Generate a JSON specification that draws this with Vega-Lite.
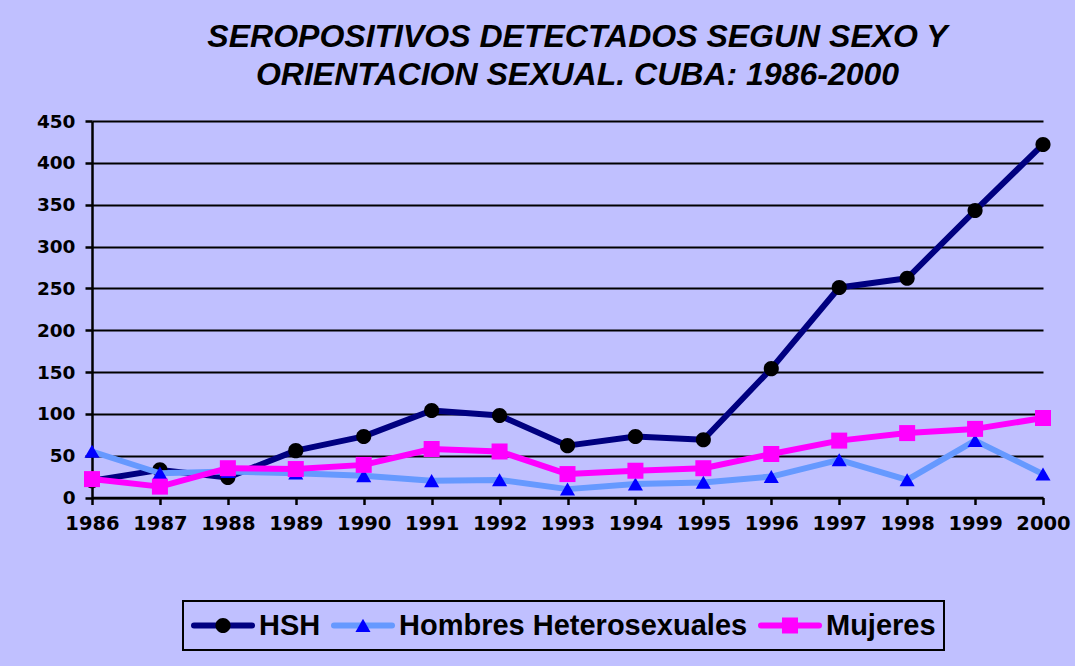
{
  "$schema": "https://vega.github.io/schema/vega-lite/v6.json",
  "autosize": "none",
  "width": 951,
  "height": 376.5,
  "padding": {"left": 92, "top": 121, "right": 32, "bottom": 168.5},
  "background": "#C0C0FF",
  "title": {
    "text": ["SEROPOSITIVOS DETECTADOS SEGUN SEXO Y", "ORIENTACION SEXUAL. CUBA: 1986-2000"],
    "font": "Liberation Sans",
    "fontSize": 32,
    "fontWeight": "bold",
    "fontStyle": "italic",
    "color": "black",
    "anchor": "middle",
    "frame": "group",
    "lineHeight": 38,
    "dx": 10,
    "offset": 20
  },
  "data": {
    "values": [
      {"year": "1986", "series": "HSH", "value": 20},
      {"year": "1987", "series": "HSH", "value": 33},
      {"year": "1988", "series": "HSH", "value": 24},
      {"year": "1989", "series": "HSH", "value": 56},
      {"year": "1990", "series": "HSH", "value": 73},
      {"year": "1991", "series": "HSH", "value": 104},
      {"year": "1992", "series": "HSH", "value": 98},
      {"year": "1993", "series": "HSH", "value": 62},
      {"year": "1994", "series": "HSH", "value": 73},
      {"year": "1995", "series": "HSH", "value": 69},
      {"year": "1996", "series": "HSH", "value": 154},
      {"year": "1997", "series": "HSH", "value": 251},
      {"year": "1998", "series": "HSH", "value": 262},
      {"year": "1999", "series": "HSH", "value": 343},
      {"year": "2000", "series": "HSH", "value": 422},
      {"year": "1986", "series": "Hombres Heterosexuales", "value": 55},
      {"year": "1987", "series": "Hombres Heterosexuales", "value": 29},
      {"year": "1988", "series": "Hombres Heterosexuales", "value": 31},
      {"year": "1989", "series": "Hombres Heterosexuales", "value": 29},
      {"year": "1990", "series": "Hombres Heterosexuales", "value": 26},
      {"year": "1991", "series": "Hombres Heterosexuales", "value": 20},
      {"year": "1992", "series": "Hombres Heterosexuales", "value": 21},
      {"year": "1993", "series": "Hombres Heterosexuales", "value": 10},
      {"year": "1994", "series": "Hombres Heterosexuales", "value": 16},
      {"year": "1995", "series": "Hombres Heterosexuales", "value": 18},
      {"year": "1996", "series": "Hombres Heterosexuales", "value": 25},
      {"year": "1997", "series": "Hombres Heterosexuales", "value": 45},
      {"year": "1998", "series": "Hombres Heterosexuales", "value": 21},
      {"year": "1999", "series": "Hombres Heterosexuales", "value": 68},
      {"year": "2000", "series": "Hombres Heterosexuales", "value": 28},
      {"year": "1986", "series": "Mujeres", "value": 22},
      {"year": "1987", "series": "Mujeres", "value": 13},
      {"year": "1988", "series": "Mujeres", "value": 35},
      {"year": "1989", "series": "Mujeres", "value": 34},
      {"year": "1990", "series": "Mujeres", "value": 39},
      {"year": "1991", "series": "Mujeres", "value": 58},
      {"year": "1992", "series": "Mujeres", "value": 55},
      {"year": "1993", "series": "Mujeres", "value": 28},
      {"year": "1994", "series": "Mujeres", "value": 32},
      {"year": "1995", "series": "Mujeres", "value": 35},
      {"year": "1996", "series": "Mujeres", "value": 52},
      {"year": "1997", "series": "Mujeres", "value": 68},
      {"year": "1998", "series": "Mujeres", "value": 77},
      {"year": "1999", "series": "Mujeres", "value": 82},
      {"year": "2000", "series": "Mujeres", "value": 95}
    ]
  },
  "encoding": {
    "x": {
      "field": "year", "type": "ordinal",
      "scale": {"type": "point", "padding": 0},
      "axis": {
        "title": null, "labelAngle": 0, "grid": false,
        "domain": true, "domainColor": "black", "domainWidth": 2.5,
        "ticks": true, "tickColor": "black", "tickWidth": 2.5, "tickSize": 7,
        "labelFont": "DejaVu Sans", "labelFontSize": 19.5, "labelFontWeight": "bold",
        "labelColor": "black", "labelPadding": 10
      }
    },
    "y": {
      "field": "value", "type": "quantitative",
      "scale": {"domain": [0, 450], "nice": false, "zero": true},
      "axis": {
        "title": null, "values": [0, 50, 100, 150, 200, 250, 300, 350, 400, 450],
        "grid": true, "gridColor": "black", "gridWidth": 2, "gridOpacity": 1,
        "domain": true, "domainColor": "black", "domainWidth": 2.5,
        "ticks": true, "tickColor": "black", "tickWidth": 2.5, "tickSize": 7,
        "labelFont": "DejaVu Sans", "labelFontSize": 18.5, "labelFontWeight": "bold",
        "labelColor": "black", "labelPadding": 10
      }
    }
  },
  "layer": [
    {
      "transform": [{"filter": "datum.series === 'HSH'"}],
      "mark": {"type": "line", "strokeWidth": 6, "strokeJoin": "round", "strokeCap": "round"},
      "encoding": {
        "color": {"field": "series", "type": "nominal",
          "scale": {"domain": ["HSH", "Hombres Heterosexuales", "Mujeres"], "range": ["#000080", "#6699FF", "#FF00FF"]},
          "legend": {
            "title": null, "orient": "none", "legendX": 91, "legendY": 480, "direction": "horizontal", "columns": 3,
            "symbolType": "M-1,0H1", "symbolSize": 3364, "symbolStrokeWidth": 6, "clipHeight": 33,
            "labelFont": "Liberation Sans", "labelFontSize": 29, "labelFontWeight": "bold", "labelColor": "black",
            "labelLimit": 0, "labelOffset": 4, "columnPadding": 10, "padding": 8,
            "strokeColor": "black", "fillColor": null,
            "encode": {"symbols": {"update": {"strokeCap": {"value": "round"}}}}
          }
        }
      }
    },
    {
      "transform": [{"filter": "datum.series === 'HSH'"}],
      "mark": {"type": "point", "filled": true, "size": 3364, "opacity": 1},
      "encoding": {
        "fill": {"field": "series", "type": "nominal",
          "scale": {"range": ["#000000", "#0000FF", "#FF00FF"]},
          "legend": {
            "title": null, "orient": "none", "legendX": 91, "legendY": 480, "direction": "horizontal", "columns": 3,
            "symbolSize": 3364, "symbolStrokeWidth": 6, "symbolStrokeColor": "transparent", "clipHeight": 33,
            "labelFont": "Liberation Sans", "labelFontSize": 29, "labelFontWeight": "bold", "labelOpacity": 0,
            "labelLimit": 0, "labelOffset": 4, "columnPadding": 10, "padding": 8, "zindex": 2
          }
        },
        "shape": {"field": "series", "type": "nominal",
          "scale": {"range": [
            "M-1,0M1,0M0.26,0A0.26,0.26,0,1,1,-0.26,0A0.26,0.26,0,1,1,0.26,0Z",
            "M-1,0M1,0M0,-0.23L0.26,0.22L-0.26,0.22Z",
            "M-1,0M1,0M-0.276,-0.276H0.276V0.276H-0.276Z"
          ]},
          "legend": {
            "title": null, "orient": "none", "legendX": 91, "legendY": 480, "direction": "horizontal", "columns": 3,
            "symbolSize": 3364, "symbolStrokeWidth": 6, "symbolStrokeColor": "transparent", "clipHeight": 33,
            "labelFont": "Liberation Sans", "labelFontSize": 29, "labelFontWeight": "bold", "labelOpacity": 0,
            "labelLimit": 0, "labelOffset": 4, "columnPadding": 10, "padding": 8, "zindex": 2
          }
        }
      }
    },
    {
      "transform": [{"filter": "datum.series === 'Hombres Heterosexuales'"}],
      "mark": {"type": "line", "strokeWidth": 6, "strokeJoin": "round", "strokeCap": "round"},
      "encoding": {"color": {"field": "series", "type": "nominal"}}
    },
    {
      "transform": [{"filter": "datum.series === 'Hombres Heterosexuales'"}],
      "mark": {"type": "point", "filled": true, "size": 3364, "opacity": 1},
      "encoding": {
        "fill": {"field": "series", "type": "nominal"},
        "shape": {"field": "series", "type": "nominal"}
      }
    },
    {
      "transform": [{"filter": "datum.series === 'Mujeres'"}],
      "mark": {"type": "line", "strokeWidth": 6, "strokeJoin": "round", "strokeCap": "round"},
      "encoding": {"color": {"field": "series", "type": "nominal"}}
    },
    {
      "transform": [{"filter": "datum.series === 'Mujeres'"}],
      "mark": {"type": "point", "filled": true, "size": 3364, "opacity": 1},
      "encoding": {
        "fill": {"field": "series", "type": "nominal"},
        "shape": {"field": "series", "type": "nominal"}
      }
    }
  ],
  "config": {
    "view": {"stroke": null},
    "legend": {"strokeWidth": 2}
  }
}
